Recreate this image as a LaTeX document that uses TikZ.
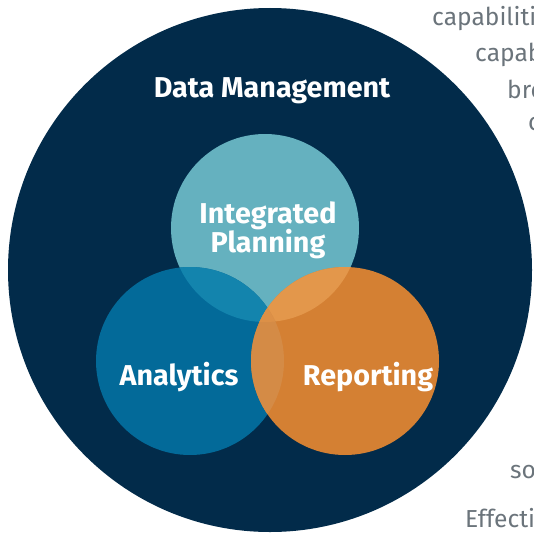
\documentclass[tikz,border=0pt]{standalone}
\usepackage{fontspec}
\setmainfont{Fira Sans}
\usepackage{tikz}

\begin{document}
\begin{tikzpicture}[x=0.03cm, y=-0.03cm]

% Colori
\definecolor{colFondo}{HTML}{022B4A}
\definecolor{colPlan}{HTML}{65B1BF}
\definecolor{colAna}{HTML}{036A99}
\definecolor{colRep}{HTML}{D48033}
\definecolor{colPlanAna}{HTML}{1384AD}
\definecolor{colPlanRep}{HTML}{E3974B}
\definecolor{colAnaRep}{HTML}{D48B46}
\definecolor{colTre}{HTML}{DC9047}
\definecolor{colGrigio}{HTML}{6B747B}

% Stili
\tikzset{
  etichetta/.style={text=white, anchor=base, font=\fontsize{24.5}{29}\selectfont\bfseries},
  sfondo/.style={text=colGrigio, anchor=base west, inner sep=0pt, font=\fontsize{21}{25}\selectfont}
}

% Raggio dei cerchi piccoli
\def\rp{94}

\useasboundingbox (0,0) rectangle (533,534);
\clip (0,0) rectangle (533,534);

% Testo di fondo tagliato dal bordo
\node[sfondo] (t1) at (432,26) {capabiliti};
\node[sfondo] (t2) at (475,62) {capab};
\node[sfondo] (t3) at (507,98) {bre};
\node[sfondo] (t4) at (528,130) {c};
\node[sfondo] (t5) at (510,478) {so};
\node[sfondo] (t6) at (465,527) {Effecti};

% Centri
\coordinate (cDM) at (270,270);
\coordinate (cPlan) at (265,228);
\coordinate (cAna) at (190,361);
\coordinate (cRep) at (345,361);

% Cerchio grande
\fill[colFondo] (cDM) circle[radius=262];

% Cerchi
\fill[colPlan] (cPlan) circle[radius=\rp];
\fill[colAna] (cAna) circle[radius=\rp];
\fill[colRep] (cRep) circle[radius=\rp];

% Intersezioni
\begin{scope}
  \clip (cPlan) circle[radius=\rp];
  \fill[colPlanAna] (cAna) circle[radius=\rp];
  \fill[colPlanRep] (cRep) circle[radius=\rp];
\end{scope}
\begin{scope}
  \clip (cAna) circle[radius=\rp];
  \fill[colAnaRep] (cRep) circle[radius=\rp];
  \clip (cRep) circle[radius=\rp];
  \fill[colTre] (cPlan) circle[radius=\rp];
\end{scope}

% Etichette
\node[etichetta] (titolo) at (272,97) {Data Management};
\node[etichetta] (integr) at (268,223) {Integrated};
\node[etichetta] (plan) at (268,252) {Planning};
\node[etichetta] (analisi) at (179,385) {Analytics};
\node[etichetta] (report) at (368,385) {Reporting};

\end{tikzpicture}
\end{document}
